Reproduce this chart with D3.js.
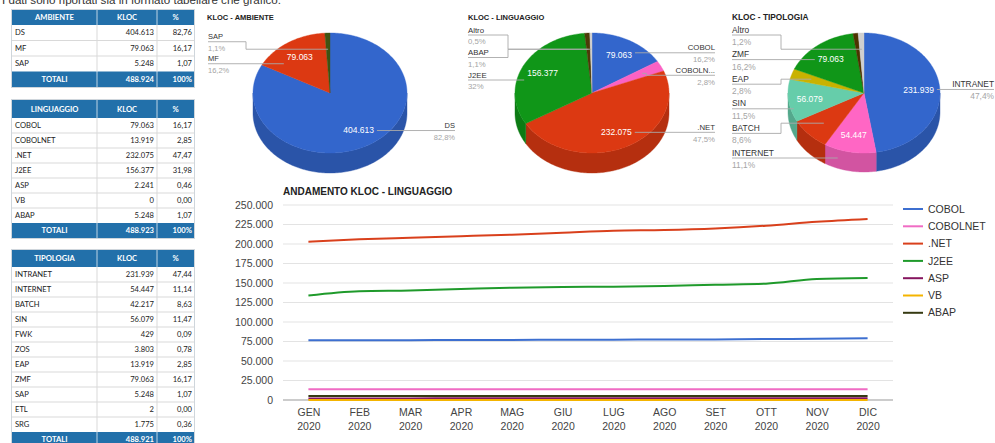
<!DOCTYPE html>
<html><head><meta charset="utf-8">
<script src="https://cdn.jsdelivr.net/npm/d3@7"></script>
<style>
body{margin:0;background:#fff;overflow:hidden}
svg{display:block}
</style></head><body>
<svg id="c" width="995" height="443"></svg>
<script>
// ---------- DATA ----------
const introText = "I dati sono riportati sia in formato tabellare che grafico.";

const ambienteNames = ["DS","MF","SAP"];
const ambienteKloc  = [404613,79063,5248];

const linguaggioNames = ["COBOL","COBOLNET",".NET","J2EE","ASP","VB","ABAP"];
const linguaggioKloc  = [79063,13919,232075,156377,2241,0,5248];

const tipologiaNames = ["INTRANET","INTERNET","BATCH","SIN","FWK","ZOS","EAP","ZMF","SAP","ETL","SRG"];
const tipologiaKloc  = [231939,54447,42217,56079,429,3803,13919,79063,5248,2,1775];

const months = ["GEN","FEB","MAR","APR","MAG","GIU","LUG","AGO","SET","OTT","NOV","DIC"];
const monthYear = "2020";
const seriesNames = ["COBOL","COBOLNET",".NET","J2EE","ASP","VB","ABAP"];
const cobolTrend    = [76500,76600,76700,76900,77000,77200,77400,77500,77700,78100,78600,79063];
const cobolnetTrend = [13850,13860,13870,13880,13890,13900,13900,13905,13910,13912,13915,13919];
const netTrend      = [203000,206000,208000,210000,212000,214500,217000,218000,220000,223500,228500,232075];
const j2eeTrend     = [134000,139500,140500,142300,144000,144900,145300,146200,147800,149100,155100,156377];
const aspTrend      = [2000,2050,2080,2100,2120,2150,2170,2190,2200,2220,2230,2241];
const vbTrend       = [0,0,0,0,0,0,0,0,0,0,0,0];
const abapTrend     = [5000,5050,5080,5100,5120,5150,5170,5190,5200,5220,5235,5248];
const yTicks = [0,25000,50000,75000,100000,125000,150000,175000,200000,225000,250000];

const otherLabel = "Altro";
const totalLabel = "TOTALI";

// ---------- STYLE ----------
const ambienteColors   = ["#3366cc","#dc3912","#3f5312"];
const linguaggioColors = ["#3366cc","#fb62c4","#dc3912","#109618","#8a1a62","#f4b400","#4d3a08"];
const tipologiaColors  = ["#3366cc","#ff66c4","#dc3912","#66cdaa","#999999","#999999","#c9b200","#109618","#4d3300","#999999","#999999"];
const otherColor = "#cfcfcf";
const lineColors = ["#3d6fd0","#f06cc4","#d9401c","#1f9a2b","#86155f","#f4b400","#363a12"];
const HEAD = "#2270aa";
const sliceThreshold = 0.01, insideThreshold = 10;

const locale = d3.formatLocale({decimal:",", thousands:".", grouping:[3], currency:["€",""]});
const fmtInt = locale.format(",d"), fmt2 = locale.format(".2f"), fmt1 = locale.format(".1f");
const fmtPiePct = p => fmt1(p).replace(/,0$/,"") + "%";

const svg = d3.select("#c");
const SANS = "'Liberation Sans', Arial, sans-serif";
const TFONT = "Lato, 'Open Sans', sans-serif";

// intro text (cut by top edge, as in the source screenshot)
svg.append("text").attr("x",2).attr("y",4).attr("font-family",SANS).attr("font-size",11.6)
  .attr("fill","#333").text(introText);

// ---------- TABLES ----------
function drawTable(c) {
  const cols = [c.x0, c.x0+85, c.x0+145, c.x0+182];
  const total = d3.sum(c.values);
  const g = svg.append("g").attr("font-family",TFONT).attr("font-size",7.6);
  const n = c.names.length;
  const bodyTop = c.y0 + c.headH;
  const totTop = bodyTop + n*c.rowH;
  g.append("rect").attr("x",cols[0]-0.5).attr("y",c.y0-0.5).attr("width",cols[3]-cols[0]+1)
    .attr("height",c.headH+(n+1)*c.rowH+1).attr("fill","#fff").attr("stroke","#cfd6dc");
  g.append("rect").attr("x",cols[0]).attr("y",c.y0).attr("width",cols[3]-cols[0]).attr("height",c.headH).attr("fill",HEAD);
  g.append("rect").attr("x",cols[0]).attr("y",totTop).attr("width",cols[3]-cols[0]).attr("height",c.rowH).attr("fill",HEAD);
  for (let i=1;i<n;i++) g.append("line").attr("x1",cols[0]).attr("x2",cols[3])
    .attr("y1",bodyTop+i*c.rowH).attr("y2",bodyTop+i*c.rowH).attr("stroke","#d9d9d9");
  [cols[1],cols[2]].forEach(x=>{
    g.append("line").attr("x1",x).attr("x2",x).attr("y1",bodyTop).attr("y2",totTop).attr("stroke","#d9d9d9");
    g.append("line").attr("x1",x).attr("x2",x).attr("y1",c.y0).attr("y2",bodyTop).attr("stroke","#ffffff").attr("stroke-opacity",0.7);
    g.append("line").attr("x1",x).attr("x2",x).attr("y1",totTop).attr("y2",totTop+c.rowH).attr("stroke","#ffffff").attr("stroke-opacity",0.7);
  });
  const heads = [c.header,"KLOC","%"];
  heads.forEach((h,i)=>g.append("text").attr("x",(cols[i]+cols[i+1])/2).attr("y",c.y0+c.headH/2)
    .attr("dy","0.35em").attr("text-anchor","middle").attr("fill","#fff").attr("font-weight","bold").text(h));
  c.names.forEach((nm,i)=>{
    const y = bodyTop + i*c.rowH + c.rowH/2;
    g.append("text").attr("x",cols[0]+3).attr("y",y).attr("dy","0.35em").attr("fill","#222").text(nm);
    g.append("text").attr("x",cols[2]-3).attr("y",y).attr("dy","0.35em").attr("text-anchor","end").attr("fill","#222").text(fmtInt(c.values[i]));
    g.append("text").attr("x",cols[3]-2).attr("y",y).attr("dy","0.35em").attr("text-anchor","end").attr("fill","#222").text(fmt2(c.values[i]/total*100));
  });
  const ty = totTop + c.rowH/2;
  g.append("text").attr("x",(cols[0]+cols[1])/2).attr("y",ty).attr("dy","0.35em").attr("text-anchor","middle").attr("fill","#fff").attr("font-weight","bold").text(totalLabel);
  g.append("text").attr("x",cols[2]-3).attr("y",ty).attr("dy","0.35em").attr("text-anchor","end").attr("fill","#fff").attr("font-weight","bold").text(fmtInt(total));
  g.append("text").attr("x",cols[3]-2).attr("y",ty).attr("dy","0.35em").attr("text-anchor","end").attr("fill","#fff").attr("font-weight","bold").text("100%");
}
drawTable({x0:12,y0:10,headH:15,rowH:15.5,header:"AMBIENTE",names:ambienteNames,values:ambienteKloc});
drawTable({x0:12,y0:100,headH:18,rowH:15,header:"LINGUAGGIO",names:linguaggioNames,values:linguaggioKloc});
drawTable({x0:12,y0:250,headH:17,rowH:15,header:"TIPOLOGIA",names:tipologiaNames,values:tipologiaKloc});

// ---------- PIES ----------
function spread(items, spacing, minY) {
  items.sort((a,b)=>a.desired-b.desired);
  let cl = items.map(d=>({items:[d], center:d.desired}));
  let changed = true;
  while (changed) {
    changed = false;
    for (let i=0;i<cl.length-1;i++) {
      const a=cl[i], b=cl[i+1];
      const aB = a.center + (a.items.length-1)*spacing/2;
      const bT = b.center - (b.items.length-1)*spacing/2;
      if (bT - aB < spacing) {
        const m = a.items.concat(b.items);
        cl.splice(i,2,{items:m, center:d3.mean(m,d=>d.desired)});
        changed = true; break;
      }
    }
  }
  cl.forEach(c=>{
    let top = c.center - (c.items.length-1)*spacing/2;
    if (top < minY) top = minY;
    c.items.forEach((d,j)=> d.lineY = top + j*spacing);
  });
}

function drawPie(c) {
  const g = svg.append("g").attr("font-family",SANS);
  const total = d3.sum(c.values);
  const all = c.names.map((n,i)=>({name:n, value:c.values[i], color:c.colors[i]}));
  const shown = all.filter(d=>d.value/total >= sliceThreshold);
  const other = all.filter(d=>d.value/total < sliceThreshold);
  if (other.length) shown.push({name:otherLabel, value:d3.sum(other,d=>d.value), color:otherColor});
  const arcs = d3.pie().sort(null).value(d=>d.value)(shown);
  const pt = (a,f=1,dy=0) => [c.cx + c.rx*f*Math.sin(a), c.cy - c.ry*f*Math.cos(a) + dy];
  const line = d3.line();
  arcs.forEach(a=>{
    const s = Math.max(a.startAngle, Math.PI/2), e = Math.min(a.endAngle, 3*Math.PI/2);
    if (e <= s) return;
    const N = Math.max(2, Math.ceil((e-s)/0.02));
    const angs = d3.range(N+1).map(i=>s+(e-s)*i/N);
    const pts = angs.map(t=>pt(t)).concat(angs.slice().reverse().map(t=>pt(t,1,c.depth)));
    g.append("path").attr("d",line(pts)+"Z").attr("fill",d3.color(a.data.color).darker(0.55))
      .attr("stroke",d3.color(a.data.color).darker(0.55)).attr("stroke-width",0.4);
  });
  arcs.forEach(a=>{
    const N = Math.max(2, Math.ceil((a.endAngle-a.startAngle)/0.02));
    const pts = [[c.cx,c.cy]].concat(d3.range(N+1).map(i=>pt(a.startAngle+(a.endAngle-a.startAngle)*i/N)));
    g.append("path").attr("d",line(pts)+"Z").attr("fill",a.data.color).attr("stroke",a.data.color).attr("stroke-width",0.4);
  });
  g.append("text").attr("x",c.titleX).attr("y",20).attr("font-size",c.titleFs).attr("font-weight","bold")
    .attr("fill","#222").text(c.title);
  arcs.forEach(a=>{
    a.mid = (a.startAngle+a.endAngle)/2;
    a.pct = a.value/total*100;
    a.anchor = pt(a.mid,0.73);
    a.desired = a.anchor[1];
    a.inside = a.pct >= insideThreshold;
    a.side = Math.sin(a.mid) < 0 ? "left" : "right";
  });
  arcs.filter(a=>a.inside).forEach(a=>{
    const p = pt(a.mid,0.72);
    const t = g.append("text").attr("x",p[0]).attr("y",p[1]).attr("dy","0.35em").attr("text-anchor","middle")
      .attr("font-size",8.5).attr("fill","#fff").text(fmtInt(a.value));
    a.halfW = t.node().getComputedTextLength()/2;
    a.labelPt = p;
  });
  let L = arcs.filter(a=>a.side==="left");
  while (L.length > c.maxLeft) { const m = d3.least(L,d=>d.value); L = L.filter(d=>d!==m); }
  const R = arcs.filter(a=>a.side==="right");
  spread(L, c.spacing, 35); spread(R, c.spacing, 35);
  const lineCol = "#a9a9a9";
  const drawLbl = (a, side) => {
    const x = side==="left" ? c.leftX : c.rightX;
    const anchor = side==="left" ? "start" : "end";
    let nm = a.data.name;
    if (side==="right" && c.rightMaxChars && nm.length > c.rightMaxChars) nm = nm.slice(0,c.rightMaxChars)+"...";
    g.append("text").attr("x",x).attr("y",a.lineY-2.5).attr("text-anchor",anchor).attr("font-size",c.fs).attr("fill","#333").text(nm);
    g.append("text").attr("x",x).attr("y",a.lineY+c.fs+1.5).attr("text-anchor",anchor).attr("font-size",c.fs).attr("fill","#a5a5a5").text(fmtPiePct(a.pct));
    let pts;
    if (a.inside) {
      const ex = side==="left" ? a.labelPt[0]-a.halfW-3 : a.labelPt[0]+a.halfW+3;
      pts = [[x,a.lineY],[ex,a.lineY]];
    } else {
      const elbow = side==="left" ? c.cx - c.rx - 7 : a.anchor[0] + 4;
      pts = [[x,a.lineY],[elbow,a.lineY],[elbow,a.anchor[1]],[a.anchor[0],a.anchor[1]]];
    }
    g.append("path").attr("d",line(pts)).attr("fill","none").attr("stroke",lineCol).attr("stroke-width",0.9);
  };
  L.forEach(a=>drawLbl(a,"left"));
  R.forEach(a=>drawLbl(a,"right"));
}
drawPie({names:ambienteNames,values:ambienteKloc,colors:ambienteColors,cx:330,cy:93,rx:77,ry:60,depth:20,
  title:"KLOC - AMBIENTE",titleX:207,titleFs:7.5,leftX:208,rightX:455,fs:7.5,spacing:22,maxLeft:6});
drawPie({names:linguaggioNames,values:linguaggioKloc,colors:linguaggioColors,cx:592,cy:93,rx:77,ry:60,depth:20,
  title:"KLOC - LINGUAGGIO",titleX:468,titleFs:7.5,leftX:468,rightX:715,fs:7.8,spacing:22.5,maxLeft:6,rightMaxChars:6});
drawPie({names:tipologiaNames,values:tipologiaKloc,colors:tipologiaColors,cx:864,cy:93,rx:76,ry:60,depth:19,
  title:"KLOC - TIPOLOGIA",titleX:732,titleFs:8.3,leftX:732,rightX:994,fs:8.4,spacing:24.6,maxLeft:6});

// ---------- LINE CHART ----------
const lc = svg.append("g").attr("font-family",SANS);
const x = d3.scalePoint().domain(months).range([283,893]).padding(0.5);
const y = d3.scaleLinear().domain([0,250000]).range([400,205]);
lc.append("text").attr("x",283).attr("y",195).attr("font-size",10).attr("font-weight","bold").attr("fill","#222")
  .text("ANDAMENTO KLOC - LINGUAGGIO");
yTicks.forEach(t=>{
  lc.append("line").attr("x1",283).attr("x2",893).attr("y1",y(t)).attr("y2",y(t))
    .attr("stroke", t===0 ? "#9a9a9a" : "#e3e3e3").attr("stroke-width", t===0 ? 1.2 : 1);
});
const yAxis = d3.axisLeft(y).tickValues(yTicks).tickFormat(fmtInt).tickSize(0).tickPadding(0);
const ya = lc.append("g").attr("transform","translate(273,0)").call(yAxis);
ya.select(".domain").remove();
ya.selectAll("text").attr("font-size",10.5).attr("fill","#444").attr("font-family",SANS);
const xAxis = d3.axisBottom(x).tickSize(0).tickPadding(0).tickFormat(()=>"");
const xa = lc.append("g").attr("transform","translate(0,400)").call(xAxis);
xa.select(".domain").remove();
xa.selectAll(".tick").each(function(d){
  const t = d3.select(this);
  t.append("text").attr("y",16).attr("text-anchor","middle").attr("font-size",10.5).attr("fill","#444").attr("font-family",SANS).text(d);
  t.append("text").attr("y",30).attr("text-anchor","middle").attr("font-size",10.5).attr("fill","#444").attr("font-family",SANS).text(monthYear);
});
const trends = [cobolTrend,cobolnetTrend,netTrend,j2eeTrend,aspTrend,vbTrend,abapTrend];
const lineGen = d3.line().x((d,i)=>x(months[i])).y(d=>y(d)).curve(d3.curveMonotoneX);
trends.forEach((s,i)=>{
  lc.append("path").attr("d",lineGen(s)).attr("fill","none").attr("stroke",lineColors[i]).attr("stroke-width",2);
});
seriesNames.forEach((n,i)=>{
  const ly = 209 + i*17.3;
  lc.append("line").attr("x1",903).attr("x2",923).attr("y1",ly).attr("y2",ly).attr("stroke",lineColors[i]).attr("stroke-width",2);
  lc.append("text").attr("x",928).attr("y",ly).attr("dy","0.35em").attr("font-size",10.5).attr("fill","#333").text(n);
});
</script>
</body></html>
